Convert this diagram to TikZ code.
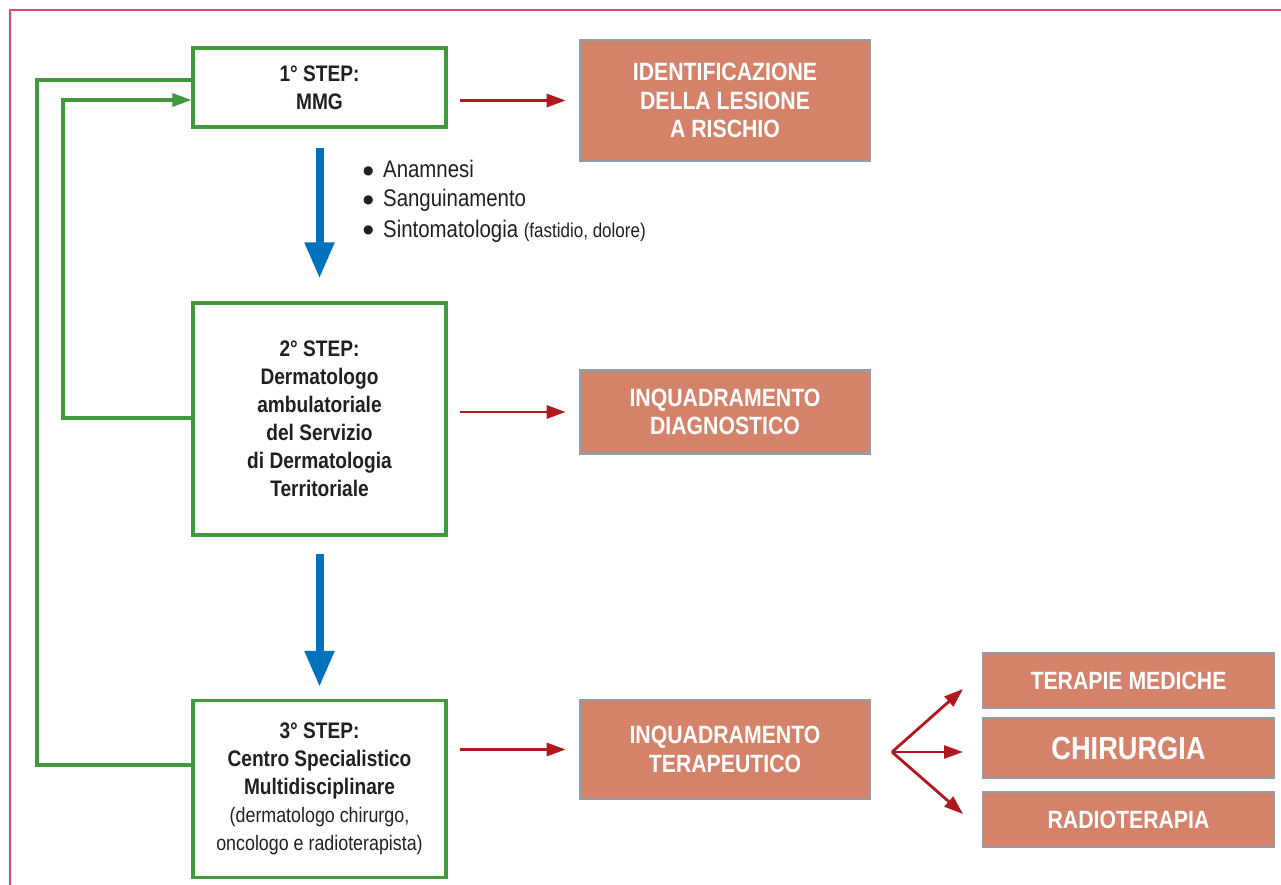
\documentclass[tikz,border=0pt]{standalone}
\usepackage{fontspec}
\setmainfont{Liberation Sans}[FakeStretch=0.85]
\newfontfamily\symfont{DejaVu Sans}
\usetikzlibrary{arrows.meta}
\definecolor{gboxc}{HTML}{409A3C}
\definecolor{redc}{HTML}{B0181E}
\definecolor{bluec}{HTML}{0072BC}
\definecolor{orng}{HTML}{D4826A}
\definecolor{grayb}{HTML}{929DA5}
\definecolor{txt}{HTML}{231F20}
\definecolor{pinkc}{HTML}{EE3F78}
\newcommand{\bul}{\makebox[20pt][l]{\raisebox{3.5pt}{\symfont\fontsize{12}{13}\selectfont ●}}}
\tikzset{
  stepbox/.style={draw=gboxc, line width=3.2pt, fill=white, minimum width=253pt, align=center, text=txt, font=\bfseries\fontsize{22.5}{28}\selectfont, inner sep=0pt},
  obox/.style={draw=grayb, line width=2.7pt, fill=orng, minimum width=290pt, align=center, text=white, font=\bfseries\fontsize{25}{28.5}\selectfont, inner sep=0pt},
  rbox/.style={obox, minimum width=291pt},
  rarrow/.style={draw=redc, line width=2.8pt, -{Triangle[length=19pt,width=13pt]}},
  barrow/.style={draw=bluec, line width=8pt, -{Triangle[length=36pt,width=28pt]}},
  gline/.style={draw=gboxc, line width=3.2pt},
  bullet/.style={anchor=base west, inner sep=0pt, text=txt, font=\fontsize{24}{28}\selectfont}
}
\begin{document}
\begin{tikzpicture}[x=1pt,y=-1pt]
\fill[white] (0,0) rectangle (1281,885);
\useasboundingbox (0,0) rectangle (1281,885);
\draw[pinkc, line width=1.5pt] (10,885) -- (10,10) -- (1281,10);

% step boxes
\node[stepbox, minimum height=79pt] (s1) at (319.5,87.5) {1° STEP:\\MMG};
\node[stepbox, minimum height=232pt] (s2) at (319.5,419) {2° STEP:\\Dermatologo\\ambulatoriale\\del Servizio\\di Dermatologia\\Territoriale};
\node[stepbox, minimum height=177pt] (s3) at (319.5,789) {3° STEP:\\Centro Specialistico\\Multidisciplinare\\{\mdseries\fontsize{21}{28}\selectfont (dermatologo chirurgo,}\\{\mdseries\fontsize{21}{28}\selectfont oncologo e radioterapista)}};

% orange boxes
\node[obox, minimum height=121pt] (b1) at (725,100.5) {IDENTIFICAZIONE\\DELLA LESIONE\\A RISCHIO};
\node[obox, minimum height=83pt] (b2) at (725,412) {INQUADRAMENTO\\DIAGNOSTICO};
\node[obox, minimum height=99pt] (b3) at (725,749.5) {INQUADRAMENTO\\TERAPEUTICO};

\node[rbox, minimum height=55pt] (r1) at (1128.5,680.5) {TERAPIE MEDICHE};
\node[rbox, minimum height=60pt, font=\bfseries\fontsize{32}{36}\selectfont] (r2) at (1128.5,748) {CHIRURGIA};
\node[rbox, minimum height=55pt] (r3) at (1128.5,819.5) {RADIOTERAPIA};

% bullets
\node[bullet] (l1) at (363,178) {\bul Anamnesi};
\node[bullet] (l2) at (363,207) {\bul Sanguinamento};
\node[bullet] (l3) at (363,237) {\bul Sintomatologia {\fontsize{20}{28}\selectfont(fastidio, dolore)}};

% blue arrows
\draw[barrow, shorten <=19pt, shorten >=23pt] (s1.south) -- (s2.north);
\draw[barrow, shorten <=17pt, shorten >=12pt] (s2.south) -- (s3.north);

% red arrows
\draw[rarrow, shorten <=12pt, shorten >=13pt] (s1.east |- b1.west) -- (b1.west);
\draw[rarrow, shorten <=12pt, shorten >=13pt] (s2.east |- b2.west) -- (b2.west);
\draw[rarrow, shorten <=12pt, shorten >=13pt] (s3.east |- b3.west) -- (b3.west);

% fan
\coordinate (fan) at (892,752);
\coordinate (t1) at (963,689);
\coordinate (t2) at (963,752);
\coordinate (t3) at (963,814);
\draw[rarrow] (fan) -- (t1);
\draw[rarrow] (fan) -- (t2);
\draw[rarrow] (fan) -- (t3);

% green loops
\coordinate (o1) at (37,80);
\coordinate (o2) at (37,765);
\draw[gline] (s1.west |- o1) -- (o1) -- (o2) -- (s3.west |- o2);
\coordinate (i1) at (63,418);
\coordinate (i2) at (63,100);
\draw[gline, -{Triangle[length=19pt,width=13pt]}] (s2.west |- i1) -- (i1) -- (i2) -- (s1.west |- i2);
\end{tikzpicture}
\end{document}
